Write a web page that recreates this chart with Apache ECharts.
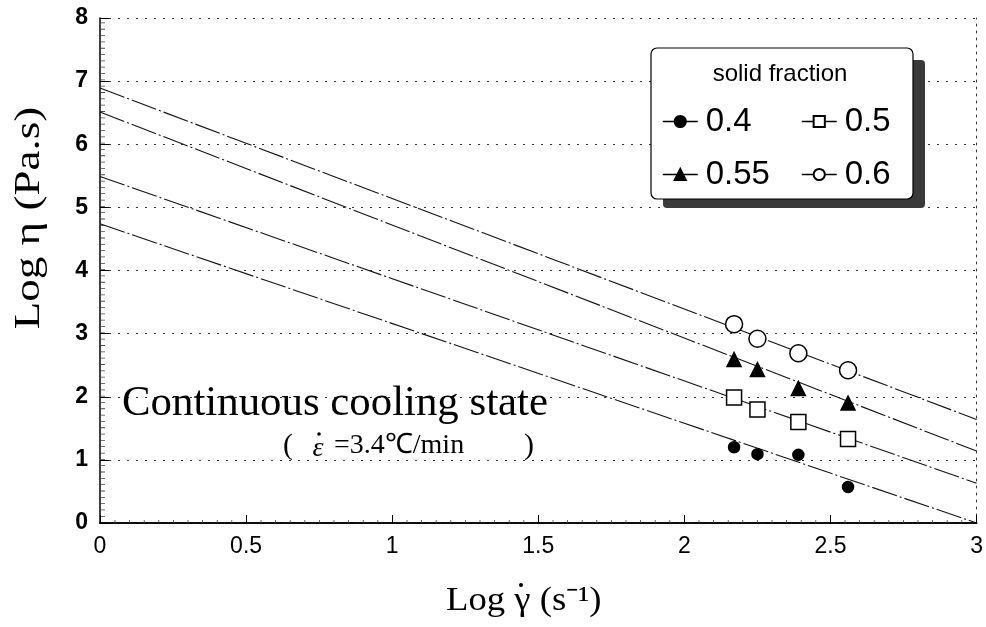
<!DOCTYPE html>
<html>
<head>
<meta charset="utf-8">
<script src="https://cdn.jsdelivr.net/npm/echarts@6/dist/echarts.min.js"></script>
<style>
html,body{margin:0;padding:0;background:#fff;}
#main{width:986px;height:627px;}
</style>
</head>
<body>
<div id="main"></div>
<script>
// solid fraction groups
var fractions = ['0.4', '0.5', '0.55', '0.6'];
// Log shear rate of the measured points (same for every group)
var logRate = [2.17, 2.25, 2.39, 2.56];
// Log viscosity per group
var eta04 = [1.20, 1.09, 1.08, 0.57];
var eta05 = [1.99, 1.80, 1.60, 1.33];
var eta055 = [2.59, 2.43, 2.13, 1.90];
var eta06 = [3.15, 2.92, 2.69, 2.42];
// fitted lines, value at Log rate 0 and at Log rate 3
var fitX = [0, 3];
var fitStart = [4.74, 5.49, 6.51, 6.89];
var fitEnd = [0.0, 0.63, 1.14, 1.64];
var xTicks = [0, 0.5, 1, 1.5, 2, 2.5, 3];

var etaAll = [eta04, eta05, eta055, eta06];
var symbols = [
	{symbol: 'circle', size: 11, fill: '#000'},
	{symbol: 'rect', size: 15, fill: '#fff'},
	{symbol: 'triangle', size: 14, fill: '#000'},
	{symbol: 'circle', size: 17, fill: '#fff'}
];

var series = [];
fractions.forEach(function(f, i){
	series.push({
		name: 'fit' + f,
		type: 'line',
		data: [[fitX[0], fitStart[i]], [fitX[1], fitEnd[i]]],
		showSymbol: false,
		silent: true,
		lineStyle: {color: '#111', width: 1.1, type: [26, 3, 2, 3]},
		z: 2
	});
});
fractions.forEach(function(f, i){
	var pts = logRate.map(function(x, k){ return [x, etaAll[i][k]]; });
	series.push({
		name: f,
		type: 'line',
		data: pts,
		symbol: symbols[i].symbol,
		symbolSize: symbols[i].size,
		showAllSymbol: true,
		lineStyle: {opacity: 0, width: 0},
		itemStyle: {color: symbols[i].fill, borderColor: '#000', borderWidth: 1.5, opacity: 1},
		z: 4
	});
});

var legendBase = {
	orient: 'vertical',
	top: 105,
	padding: 0,
	itemWidth: 35,
	itemHeight: 14,
	itemGap: 20,
	z: 20,
	lineStyle: {color: '#000', width: 1.5, opacity: 1, type: 'solid'},
	textStyle: {fontFamily: 'Liberation Sans', fontSize: 33, lineHeight: 33, color: '#000', padding: [0, 0, 0, 3]},
	selectedMode: false
};
var legendLeft = Object.assign({}, legendBase, {left: 662, data: ['0.4', '0.55']});
var legendRight = Object.assign({}, legendBase, {left: 801, data: ['0.5', '0.6']});

// comb of small inside ticks, drawn as a thick dashed axis line
function combAxis(pos, max, step, w){
	return {
		type: 'value', position: pos, min: 0, max: max, offset: -(w / 2 + 0.5),
		axisLine: {show: true, onZero: false, lineStyle: {color: '#444', width: w, cap: 'butt', type: [0.8, step - 0.8]}},
		axisTick: {show: false}, axisLabel: {show: false}, splitLine: {show: false}
	};
}

var myChart = echarts.init(document.getElementById('main'));
var option = {
	backgroundColor: '#fff',
	animation: false,
	grid: {left: 100, right: 9, top: 18, bottom: 104},
	legend: [legendLeft, legendRight],
	xAxis: [{
		type: 'value',
		min: xTicks[0], max: xTicks[xTicks.length - 1], interval: 0.5,
		axisLine: {show: true, lineStyle: {color: '#000', width: 1.5}},
		axisTick: {show: true, inside: true, length: 8, lineStyle: {color: '#000', width: 1}},
		axisLabel: {fontFamily: 'Liberation Sans', fontSize: 23, color: '#000', margin: 12,
			formatter: function(v){ return String(v); }},
		splitLine: {show: false}
	}, {
		type: 'value', position: 'top',
		min: xTicks[0], max: xTicks[xTicks.length - 1], interval: 0.5,
		axisLine: {show: true, lineStyle: {color: '#000', width: 1.5}},
		axisTick: {show: false}, axisLabel: {show: false}, splitLine: {show: false}
	}, combAxis('bottom', 3, 14.6, 3)],
	yAxis: [{
		type: 'value',
		min: 0, max: 8, interval: 1,
		axisLine: {show: true, lineStyle: {color: '#000', width: 1.5}},
		axisTick: {show: true, inside: true, length: 9, lineStyle: {color: '#000', width: 1}},
		axisLabel: {fontFamily: 'Liberation Sans', fontWeight: 'bold', fontSize: 23, color: '#000', margin: 12},
		splitLine: {show: true, lineStyle: {color: '#333', width: 1, type: [2, 7]}}
	}, {
		type: 'value', position: 'right',
		min: 0, max: 8, interval: 1,
		axisLine: {show: true, onZero: false, lineStyle: {color: '#333', width: 1, type: [2, 5]}},
		axisTick: {show: false}, axisLabel: {show: false}, splitLine: {show: false}
	}, combAxis('left', 8, 6.325, 4)],
	graphic: [
		// legend box with its shadow
		{type: 'rect', shape: {x: 663, y: 60, width: 262, height: 148, r: 4}, style: {fill: '#3a3a3a'}, z: 10},
		{type: 'rect', shape: {x: 651, y: 48, width: 262, height: 151, r: 6}, style: {fill: '#fff', stroke: '#000', lineWidth: 1.2}, z: 11},
		{type: 'text', x: 780, y: 74, style: {text: 'solid fraction', fontFamily: 'Liberation Sans', fontSize: 24, fill: '#000', textAlign: 'center', textVerticalAlign: 'middle'}, z: 12},
		// axis titles
		{type: 'text', x: 30, y: 218, rotation: Math.PI / 2, scaleX: 1.25,
			style: {text: 'Log η (Pa.s)', fontFamily: 'Liberation Serif', fontSize: 36, fill: '#000', textAlign: 'center', textVerticalAlign: 'middle'}, z: 12},
		{type: 'text', x: 446, y: 601, scaleX: 1.08,
			style: {text: 'Log γ (s⁻¹)', fontFamily: 'Liberation Serif', fontSize: 34, fill: '#000', textVerticalAlign: 'middle'}, z: 12},
		{type: 'circle', shape: {cx: 521, cy: 585, r: 2}, style: {fill: '#000'}, z: 12},
		// annotation
		{type: 'text', x: 122, y: 404, scaleX: 1.02,
			style: {text: 'Continuous cooling state', fontFamily: 'Liberation Serif', fontSize: 42, fill: '#000', textVerticalAlign: 'middle'}, z: 12},
		{type: 'text', x: 283, y: 446, style: {text: '(', fontFamily: 'Liberation Serif', fontSize: 30, fill: '#000', textVerticalAlign: 'middle'}, z: 12},
		{type: 'text', x: 318, y: 449, style: {text: 'ε', fontFamily: 'Liberation Serif', fontStyle: 'italic', fontSize: 28, fill: '#000', textAlign: 'center', textVerticalAlign: 'middle'}, z: 12},
		{type: 'circle', shape: {cx: 319, cy: 434, r: 1.8}, style: {fill: '#000'}, z: 12},
		{type: 'text', x: 334, y: 446, style: {text: '=3.4℃/min', fontFamily: 'Liberation Serif', fontSize: 28, fill: '#000', textVerticalAlign: 'middle'}, z: 12},
		{type: 'text', x: 524, y: 446, style: {text: ')', fontFamily: 'Liberation Serif', fontSize: 30, fill: '#000', textVerticalAlign: 'middle'}, z: 12}
	],
	series: series.map(function(s){ return Object.assign(s, {xAxisIndex: 0, yAxisIndex: 0}); })
};
myChart.setOption(option);
</script>
</body>
</html>
